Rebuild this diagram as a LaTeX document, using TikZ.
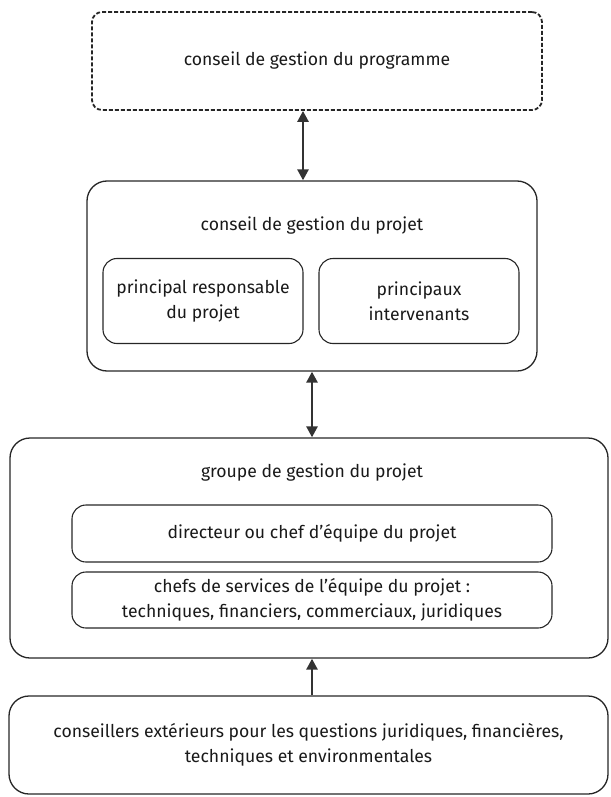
\documentclass[tikz,border=0pt]{standalone}
\usepackage{fontspec}
\setmainfont{Fira Sans}
\usetikzlibrary{arrows.meta, positioning}

\begin{document}
\begin{tikzpicture}[
		x=1pt, y=-1pt,
		font=\fontsize{17.6}{24.5}\selectfont,
		% Style for the big frames
		frame/.style={draw=black!85, line width=1.3pt, rounded corners=20pt, inner sep=0pt},
		% Style for the boxes inside a frame
		inbox/.style={draw=black!85, line width=1.1pt, rounded corners=14pt, align=center, inner sep=0pt},
		% Dashed top box
		dashbox/.style={draw=black!85, line width=1.8pt, dashed, dash pattern=on 4pt off 2pt, rounded corners=10pt, inner sep=0pt},
		% Title & Text
		frame title/.style={align=center, text=black!90},
		% Connectors
		link/.style={draw=black!80, line width=2.6pt, -{Triangle[width=11pt,length=11pt]}},
		both link/.style={link, {Triangle[width=11pt,length=11pt]}-{Triangle[width=11pt,length=11pt]}}
		]
		\useasboundingbox (0,0) rectangle (610,797);
		
		% ==============================================================================
		% Programme level
		% ==============================================================================
		\node[dashbox, minimum width=450pt, minimum height=98pt] (programme) at (317,61) {};
		\node[frame title] (programme-t) at (programme.center) {conseil de gestion du programme};
		
		% ==============================================================================
		% Project board
		% ==============================================================================
		\node[frame, minimum width=450pt, minimum height=190pt] (board) at (312,276) {};
		\node[frame title] (board-t) at (312,226) {conseil de gestion du projet};
		\node[inbox, text=black!90, minimum width=200pt, minimum height=85pt] (executive) at (203,301) {principal responsable\\du projet};
		\node[inbox, text=black!90, minimum width=200pt, minimum height=85pt] (stakeholders) at (419,301) {principaux\\intervenants};
		
		% ==============================================================================
		% Project management group
		% ==============================================================================
		\node[frame, minimum width=598pt, minimum height=220pt] (group) at (309,548) {};
		\node[frame title] (group-t) at (312,473) {groupe de gestion du projet};
		\node[inbox, text=black!90, minimum width=480pt, minimum height=57pt] (director) at (312,533.5) {directeur ou chef d’équipe du projet};
		\node[inbox, text=black!90, minimum width=480pt, minimum height=56pt] (heads) at (312,600) {chefs de services de l’équipe du projet :\\techniques, financiers, commerciaux, juridiques};
		
		% ==============================================================================
		% External advisers
		% ==============================================================================
		\node[frame, minimum width=599pt, minimum height=98pt] (advisers) at (308.5,745) {};
		\node[frame title] (advisers-t) at (advisers.center) {conseillers extérieurs pour les questions juridiques, financières,\\techniques et environmentales};
		
		% Draw connectors after nodes exist
		\draw[both link] ([xshift=-14pt]programme.south) -- ([xshift=-9pt]board.north);
		\draw[both link] (board.south) -- ([xshift=3pt]group.north);
		\draw[link] ([xshift=3.5pt]advisers.north) -- ([xshift=3pt]group.south);
	\end{tikzpicture}
\end{document}
